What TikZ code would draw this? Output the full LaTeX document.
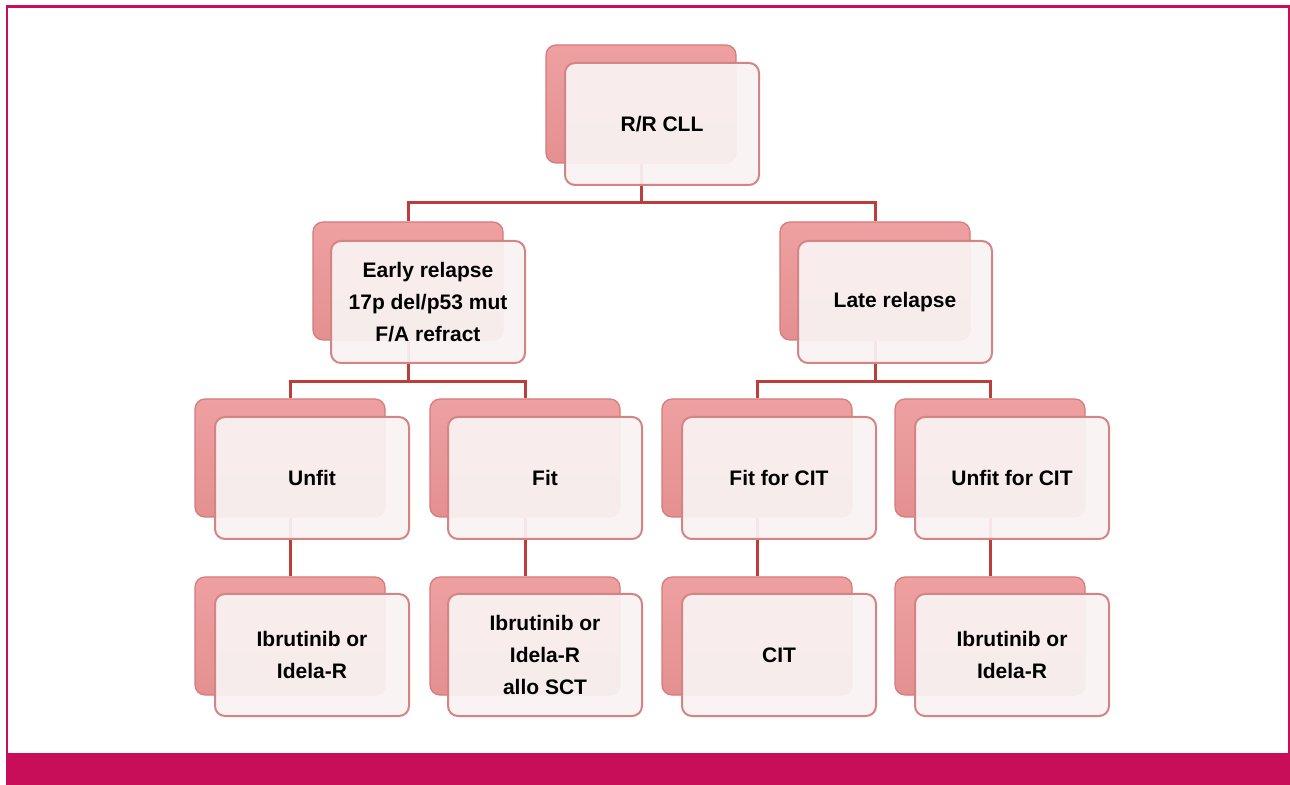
\documentclass[tikz,border=0pt]{standalone}
\usepackage{fontspec}
\setmainfont{Liberation Sans}
\usetikzlibrary{calc}

\definecolor{framemag}{RGB}{200,14,89}
\definecolor{linkred}{RGB}{188,62,58}
\definecolor{backtop}{RGB}{238,160,160}
\definecolor{backbot}{RGB}{228,144,144}
\definecolor{backedge}{RGB}{214,122,122}
\definecolor{frontfill}{RGB}{249,242,242}
\definecolor{frontedge}{RGB}{212,132,132}

\begin{document}
\begin{tikzpicture}[
			x=0.5pt, y=-0.5pt,
			back/.style={rectangle, rounded corners=5pt, draw=backedge, line width=0.6pt, top color=backtop, bottom color=backbot, minimum width=95pt, minimum height=59pt, inner sep=0pt},
			front/.style={rectangle, rounded corners=5pt, draw=frontedge, line width=1pt, fill=frontfill, fill opacity=0.94, text opacity=1, minimum width=97pt, minimum height=61pt, align=center, font=\fontsize{10.5}{16}\selectfont\bfseries},
			link/.style={draw=linkred, line width=1.5pt}
			]
			\useasboundingbox (0,0) rectangle (1290,785);
			
			% frame
			\draw[framemag, line width=1.2pt] (7,6.5) rectangle (1289,760);
			\fill[framemag] (6,753) rectangle (1290,785);
			
			% back boxes
			\node[back] (cll-b) at (641,104) {};
			\node[back] (early-b) at (408,281) {};
			\node[back] (late-b) at (875,281) {};
			\node[back] (unfit-b) at (290,458) {};
			\node[back] (fit-b) at (525,458) {};
			\node[back] (fitcit-b) at (757,458) {};
			\node[back] (unfitcit-b) at (990,458) {};
			\node[back] (unfitrx-b) at (290,636) {};
			\node[back] (fitrx-b) at (525,636) {};
			\node[back] (fitcitrx-b) at (757,636) {};
			\node[back] (unfitcitrx-b) at (990,636) {};
			
			% connectors
			\coordinate (bus1) at (641,203);
			\coordinate (bus2) at (408,382);
			\coordinate (bus3) at (875,382);
			\draw[link] (cll-b.south) -- (bus1) -| (early-b.north);
			\draw[link] (bus1) -| (late-b.north);
			\draw[link] (early-b.south) -- (bus2) -| (unfit-b.north);
			\draw[link] (bus2) -| (fit-b.north);
			\draw[link] (late-b.south) -- (bus3) -| (fitcit-b.north);
			\draw[link] (bus3) -| (unfitcit-b.north);
			\draw[link] (unfit-b.south) -- (unfitrx-b.north);
			\draw[link] (fit-b.south) -- (fitrx-b.north);
			\draw[link] (fitcit-b.south) -- (fitcitrx-b.north);
			\draw[link] (unfitcit-b.south) -- (unfitcitrx-b.north);
			
			% front boxes
			\node[front] (cll) at (662,124) {R/R CLL};
			\node[front] (early) at (428,302) {Early relapse\\17p del/p53 mut\\F/A refract};
			\node[front] (late) at (895,302) {Late relapse};
			\node[front] (unfit) at (312,478) {Unfit};
			\node[front] (fit) at (545,478) {Fit};
			\node[front] (fitcit) at (779,478) {Fit for CIT};
			\node[front] (unfitcit) at (1012,478) {Unfit for CIT};
			\node[front] (unfitrx) at (312,655) {Ibrutinib or\\Idela-R};
			\node[front] (fitrx) at (545,655) {Ibrutinib or\\Idela-R\\allo SCT};
			\node[front] (fitcitrx) at (779,655) {CIT};
			\node[front] (unfitcitrx) at (1012,655) {Ibrutinib or\\Idela-R};
		\end{tikzpicture}
\end{document}
